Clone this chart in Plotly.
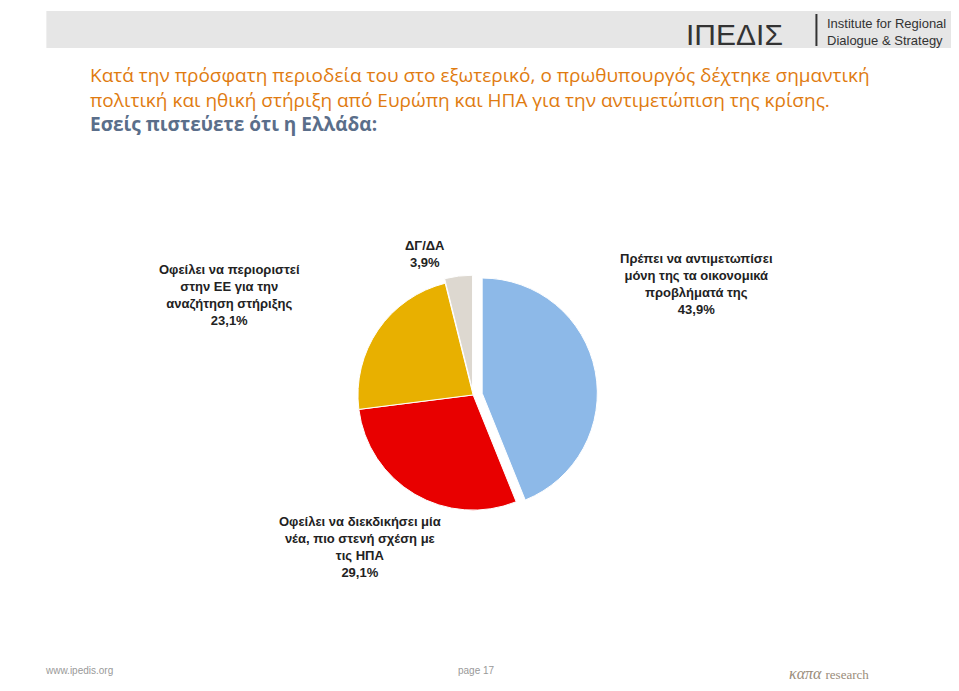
import plotly.graph_objects as go

labels = ["Πρέπει να αντιμετωπίσει<br>μόνη της τα οικονομικά<br>προβλήματά της",
          "Οφείλει να διεκδικήσει μία<br>νέα, πιο στενή σχέση με<br>τις ΗΠΑ",
          "Οφείλει να περιοριστεί<br>στην ΕΕ για την<br>αναζήτηση στήριξης",
          "ΔΓ/ΔΑ"]
values = [43.9, 29.1, 23.1, 3.9]
colors = ["#8DB9E8", "#E80000", "#E8B000", "#DDD8D0"]

fig = go.Figure(go.Pie(
    labels=labels, values=values, sort=False, direction="clockwise", rotation=0,
    marker=dict(colors=colors, line=dict(color="white", width=1)),
    pull=[0.08, 0, 0, 0.04], textinfo="none", hoverinfo="label+percent",
    domain=dict(x=[0.34, 0.63], y=[0.26, 0.62]), showlegend=False,
))

lbl_font = dict(family="Liberation Sans, Arial", size=13, color="#222")
positions = [(0.80, 0.60), (0.28, 0.17), (0.155, 0.585), (0.435, 0.67)]
for (x, y), lab, v in zip(positions, labels, values):
    fig.add_annotation(x=x, y=y, xref="paper", yref="paper", showarrow=False,
                       text="<b>%s<br>%s%%</b>" % (lab, str(v).replace(".", ",")), font=lbl_font)

title = ("Κατά την πρόσφατη περιοδεία του στο εξωτερικό, ο πρωθυπουργός δέχτηκε σημαντική<br>"
         "πολιτική και ηθική στήριξη από Ευρώπη και ΗΠΑ για την αντιμετώπιση της κρίσης.<br>"
         "<b><span style='color:#5A6E8A'>Εσείς πιστεύετε ότι η Ελλάδα:</span></b>")
fig.add_annotation(x=80 / 959, y=1 - 52 / 691, xref="paper", yref="paper", xanchor="left", yanchor="top",
                   align="left", showarrow=False, text=title,
                   font=dict(family="Open Sans, Liberation Sans", size=19, color="#E07B10"))

# header bar and logo
fig.add_shape(type="rect", xref="paper", yref="paper", x0=0.04, x1=0.995,
              y0=1 - 40 / 691, y1=1 - 3 / 691, fillcolor="#E6E6E6", line_width=0, layer="below")
fig.add_annotation(x=0.705, y=1 - 8 / 691, xref="paper", yref="paper", xanchor="left", yanchor="top",
                   showarrow=False, text="ΙΠΕΔΙΣ", font=dict(family="Liberation Sans", size=30, color="#333"))
fig.add_shape(type="line", xref="paper", yref="paper", x0=0.843, x1=0.843,
              y0=1 - 38 / 691, y1=1 - 6 / 691, line=dict(color="#333", width=2))
fig.add_annotation(x=0.852, y=1 - 6 / 691, xref="paper", yref="paper", xanchor="left", yanchor="top",
                   showarrow=False, align="left", text="Institute for Regional<br>Dialogue & Strategy",
                   font=dict(family="Liberation Sans", size=13, color="#333"))

# footer
foot = dict(family="Liberation Sans", size=10, color="#999")
fig.add_annotation(x=35 / 959, y=0.03, xref="paper", yref="paper", xanchor="left", yanchor="bottom",
                   showarrow=False, text="www.ipedis.org", font=foot)
fig.add_annotation(x=448 / 959, y=0.03, xref="paper", yref="paper", xanchor="left", yanchor="bottom",
                   showarrow=False, text="page 17", font=foot)
fig.add_annotation(x=0.90, y=0.022, xref="paper", yref="paper", yanchor="bottom", showarrow=False,
                   text="<i>καπα</i> <span style='font-size:13px'>research</span>",
                   font=dict(family="Liberation Serif", size=16, color="#9A8C7A"))

fig.update_layout(width=959, height=691, margin=dict(l=0, r=0, t=0, b=0),
                  paper_bgcolor="white", plot_bgcolor="white")
fig.write_html("out.html")
